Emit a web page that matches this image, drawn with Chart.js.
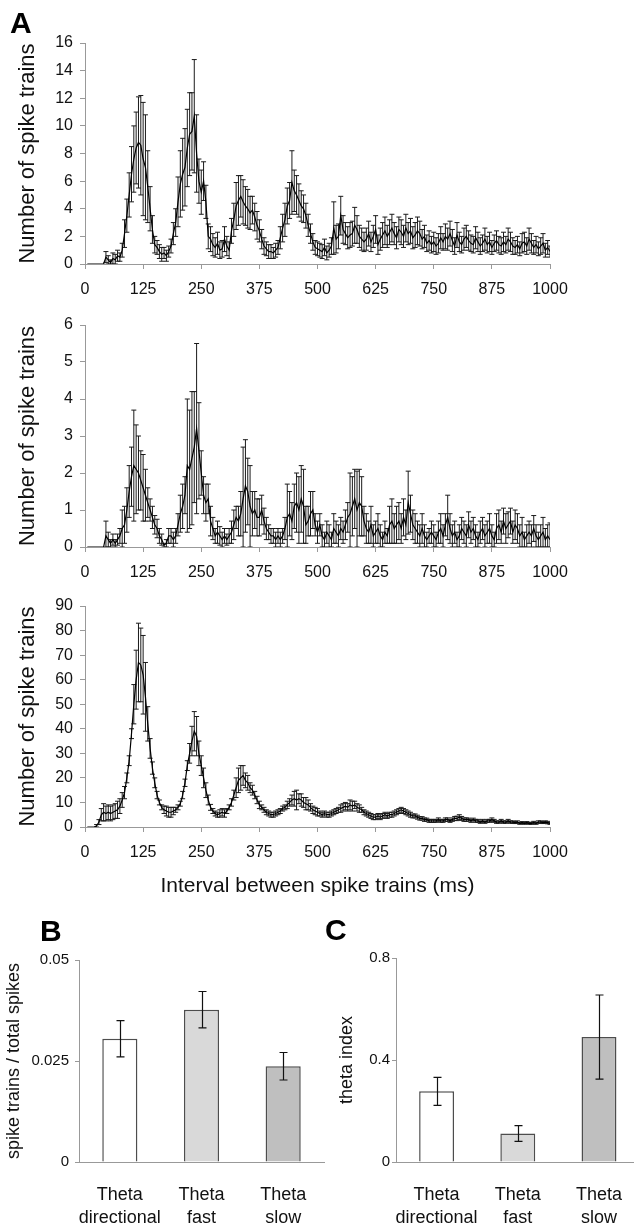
<!DOCTYPE html>
<html>
<head>
<meta charset="utf-8">
<script src="https://cdn.jsdelivr.net/npm/chart.js@4.4.0/dist/chart.umd.min.js"></script>
<style>
  html, body { margin: 0; padding: 0; background: #fff; overflow: hidden; }
  body { width: 634px; height: 1225px; position: relative; }
  canvas { position: absolute; }
  .panel { position: absolute; font: bold 30px Arial, 'Liberation Sans', sans-serif; line-height: 30px; color: #000; }
</style>
</head>
<body>
<canvas id="chartA1" width="634" height="300" style="left:0;top:0"></canvas>
<canvas id="chartA2" width="634" height="284" style="left:0;top:300px"></canvas>
<canvas id="chartA3" width="634" height="326" style="left:0;top:584px"></canvas>
<canvas id="chartB" width="340" height="315" style="left:0;top:910px"></canvas>
<canvas id="chartC" width="344" height="315" style="left:300px;top:910px"></canvas>
<div class="panel" style="left:10px;top:8px">A</div>
<div class="panel" style="left:40px;top:916px">B</div>
<div class="panel" style="left:325px;top:915px">C</div>
<script>
const FONT = "Arial, 'Liberation Sans', sans-serif";

// 5 ms bins, 5..1000 ms
const BIN_MS = 5;
const intervalsMs = Array.from({length: 200}, (_, i) => (i + 1) * BIN_MS);
const xTickValues = [0, 125, 250, 375, 500, 625, 750, 875, 1000];

// top panel
const a1Mean = [
  0, 0, 0, 0, 0, 0, 0, 0, 0.5, 0.3,
  0.1, 0.4, 0.3, 0.6, 0.5, 1.0, 2.2, 3.5, 5.0, 6.5,
  7.6, 8.4, 8.8, 8.6, 7.6, 7.0, 5.6, 4.0, 2.5, 1.4,
  1.2, 0.9, 0.7, 0.8, 0.6, 0.9, 1.3, 2.2, 3.0, 4.5,
  5.8, 6.5, 7.0, 8.4, 9.4, 9.6, 10.7, 8.0, 6.0, 5.2,
  6.0, 4.5, 2.0, 1.8, 1.4, 1.2, 1.5, 1.0, 1.1, 1.8,
  1.3, 1.0, 2.4, 3.2, 4.2, 4.6, 4.9, 4.5, 4.2, 4.0,
  3.7, 3.9, 3.4, 2.8, 2.4, 1.8, 1.3, 1.1, 0.9, 0.9,
  0.8, 1.0, 1.2, 1.9, 2.6, 3.2, 4.2, 4.6, 5.9, 5.3,
  5.0, 4.6, 4.2, 4.0, 3.5, 2.8, 2.2, 1.6, 1.2, 1.1,
  1.0, 0.9, 1.2, 0.8, 1.0, 1.3, 2.6, 1.8, 2.0, 3.5,
  2.5, 2.2, 1.9, 2.1, 2.2, 2.8, 2.5, 2.0, 1.8, 1.6,
  1.8, 2.2, 1.6, 2.0, 2.5, 1.4, 1.8, 2.1, 2.4, 2.0,
  2.3, 2.6, 2.2, 1.9, 2.5, 2.3, 2.0, 2.6, 2.2, 2.4,
  1.9, 2.1, 2.4, 2.2, 1.8, 2.0, 1.5, 1.7, 1.4, 1.6,
  1.3, 1.5, 1.9, 1.6, 2.0, 1.8, 2.2, 1.7, 1.3, 2.1,
  1.6, 1.4, 1.8, 2.0, 1.7, 1.5, 1.4, 1.9, 1.6, 1.3,
  1.5, 1.8, 1.4, 1.6, 1.2, 1.5, 1.7, 1.4, 1.3, 1.6,
  1.4, 1.8, 1.6, 1.3, 1.2, 1.4, 1.1, 1.5, 1.6, 1.3,
  1.8, 1.5, 1.2, 1.4, 1.1, 1.3, 1.5, 1.0, 1.2, 0.9
];
const a1Sem = [
  0, 0, 0, 0, 0, 0, 0, 0, 0.4, 0.3,
  0.2, 0.4, 0.4, 0.4, 0.3, 0.5, 1.0, 1.2, 1.6, 2.0,
  2.4, 2.6, 3.3, 3.6, 4.1, 3.8, 2.6, 1.6, 1.0, 0.6,
  0.5, 0.5, 0.5, 0.4, 0.4, 0.4, 0.5, 0.8, 1.0, 1.8,
  2.4, 2.6, 2.8, 2.8, 3.0, 2.8, 4.1, 2.8, 1.6, 1.6,
  1.4, 1.2, 0.9, 0.9, 0.8, 0.7, 0.8, 0.6, 0.6, 0.9,
  0.7, 0.6, 0.9, 1.2, 1.7, 1.8, 1.5, 1.6, 1.4, 1.4,
  1.2, 1.0, 1.0, 1.0, 0.8, 0.7, 0.6, 0.5, 0.5, 0.5,
  0.4, 0.5, 0.5, 0.8, 1.0, 1.2, 1.3, 1.3, 2.3, 1.5,
  1.4, 1.2, 1.1, 1.0, 0.9, 0.8, 0.7, 0.6, 0.5, 0.5,
  0.5, 0.5, 0.6, 0.5, 0.5, 0.6, 1.9, 1.0, 0.9, 1.4,
  1.0, 0.8, 0.8, 0.9, 0.9, 1.3, 1.0, 0.8, 0.8, 0.7,
  0.8, 0.9, 0.7, 0.8, 1.0, 0.7, 0.8, 0.9, 1.0, 0.8,
  0.9, 1.0, 0.8, 0.8, 0.9, 0.9, 0.8, 1.0, 0.8, 0.9,
  0.8, 0.9, 1.0, 0.9, 0.7, 0.8, 0.6, 0.7, 0.6, 0.7,
  0.6, 0.7, 0.8, 0.6, 0.9, 0.8, 0.9, 0.8, 0.6, 0.9,
  0.7, 0.6, 0.8, 0.8, 0.7, 0.6, 0.6, 0.8, 0.7, 0.6,
  0.6, 0.8, 0.6, 0.7, 0.5, 0.6, 0.7, 0.6, 0.6, 0.7,
  0.6, 0.8, 0.7, 0.6, 0.5, 0.6, 0.5, 0.7, 0.7, 0.6,
  0.8, 0.7, 0.5, 0.6, 0.5, 0.6, 0.7, 0.5, 0.5, 0.4
];
const a1YTicks = [0, 2, 4, 6, 8, 10, 12, 14, 16];

// middle panel
const a2Mean = [
  0, 0, 0, 0, 0, 0, 0, 0, 0.3, 0.2,
  0.1, 0.2, 0.1, 0.2, 0.3, 0.5, 0.6, 1.0, 1.5, 1.9,
  2.2, 2.1, 2.0, 1.8, 1.6, 1.4, 1.2, 1.0, 0.8, 0.6,
  0.5, 0.3, 0.2, 0.05, 0.1, 0.3, 0.3, 0.2, 0.3, 0.6,
  0.9, 1.1, 1.4, 2.2, 2.1, 2.4, 2.7, 3.2, 2.6, 2.0,
  1.4, 1.2, 1.3, 0.7, 0.5, 0.3, 0.4, 0.3, 0.2, 0.3,
  0.2, 0.3, 0.4, 0.6, 0.8, 0.7, 0.9, 1.3, 1.65, 1.5,
  1.1, 0.9, 1.0, 0.8, 0.8, 1.0, 0.7, 0.5, 0.4, 0.3,
  0.3, 0.2, 0.3, 0.2, 0.3, 0.5, 0.8, 0.9, 0.7, 1.1,
  1.2, 1.0, 1.3, 1.1, 0.6, 0.7, 0.9, 1.0, 0.6, 0.4,
  0.6, 0.3, 0.2, 0.4, 0.3, 0.2, 0.5, 0.4, 0.3, 0.5,
  0.4, 0.6, 0.8, 0.9, 1.1, 1.3, 1.0, 1.2, 1.1, 0.7,
  0.5, 0.4, 0.6, 0.3, 0.4, 0.5, 0.3, 0.2, 0.4, 0.3,
  0.6, 0.7, 0.5, 0.6, 0.7, 0.5, 0.8, 0.6, 1.2, 0.9,
  0.6, 0.5, 0.4, 0.3, 0.5, 0.3, 0.2, 0.3, 0.4, 0.3,
  0.2, 0.4, 0.5, 0.3, 0.6, 0.8, 0.5, 0.3, 0.4, 0.2,
  0.3, 0.5, 0.4, 0.3, 0.6, 0.4, 0.5, 0.3, 0.2, 0.4,
  0.5, 0.3, 0.4, 0.5, 0.3, 0.2, 0.5, 0.6, 0.4, 0.7,
  0.5, 0.6, 0.7, 0.4, 0.6, 0.5, 0.3, 0.4, 0.2, 0.3,
  0.4, 0.3, 0.5, 0.3, 0.2, 0.3, 0.4, 0.2, 0.3, 0.2
];
const a2Sem = [
  0, 0, 0, 0, 0, 0, 0, 0, 0.4, 0.2,
  0.1, 0.15, 0.1, 0.15, 0.2, 0.5, 0.5, 0.6, 0.7, 0.8,
  1.5, 1.2, 1.0, 0.8, 0.9, 0.7, 0.4, 0.3, 0.3, 0.25,
  0.25, 0.2, 0.15, 0.05, 0.1, 0.2, 0.2, 0.2, 0.2, 0.3,
  0.5, 0.6, 0.5, 1.8, 1.6, 1.8, 1.5, 2.3, 1.3, 0.6,
  0.5, 0.5, 0.4, 0.4, 0.3, 0.2, 0.3, 0.25, 0.2, 0.2,
  0.15, 0.2, 0.3, 0.4, 0.3, 0.4, 0.6, 1.4, 1.25, 0.9,
  1.1, 0.6, 0.5, 0.5, 0.5, 0.4, 0.35, 0.3, 0.2, 0.2,
  0.2, 0.2, 0.2, 0.2, 0.2, 0.3, 0.9, 0.6, 0.5, 0.6,
  0.8, 0.9, 0.9, 1.0, 0.5, 0.4, 0.6, 0.5, 0.3, 0.3,
  0.3, 0.3, 0.2, 0.3, 0.3, 0.2, 0.4, 0.3, 0.3, 0.3,
  0.3, 0.4, 0.4, 1.1, 0.8, 0.8, 1.05, 0.9, 0.8, 0.4,
  0.4, 0.3, 0.5, 0.3, 0.3, 0.4, 0.3, 0.2, 0.3, 0.2,
  0.5, 0.6, 0.4, 0.5, 0.5, 0.4, 0.5, 0.4, 0.85, 0.5,
  0.4, 0.4, 0.3, 0.3, 0.4, 0.3, 0.2, 0.2, 0.3, 0.3,
  0.2, 0.3, 0.4, 0.3, 0.3, 0.6, 0.4, 0.3, 0.3, 0.2,
  0.3, 0.3, 0.3, 0.3, 0.35, 0.3, 0.3, 0.3, 0.2, 0.3,
  0.3, 0.3, 0.3, 0.4, 0.3, 0.2, 0.4, 0.4, 0.3, 0.35,
  0.4, 0.35, 0.35, 0.3, 0.4, 0.4, 0.3, 0.4, 0.2, 0.3,
  0.3, 0.3, 0.35, 0.3, 0.2, 0.3, 0.4, 0.3, 0.3, 0.45
];
const a2YTicks = [0, 1, 2, 3, 4, 5, 6];

// bottom panel
const a3Mean = [
  0, 0, 0, 0, 0.5, 2, 5, 6, 5.5, 6,
  5.5, 6, 6.5, 7, 8.5, 11, 14, 20, 27, 38,
  50, 60, 67, 66, 62, 53, 42, 32, 24, 18,
  13, 10, 8, 7, 6.5, 6, 6, 6.5, 7, 8,
  9.5, 13, 18, 25, 30, 35, 39, 37, 30, 25,
  20, 15, 11, 8, 6.5, 5.5, 5, 5.5, 6, 5.5,
  6.5, 8, 10, 13, 16, 19, 20, 21, 19, 18,
  16, 15, 13, 11, 9, 8, 7, 6, 5.5, 5,
  5, 5.5, 6, 6.5, 7.5, 8, 9, 10, 11, 11.5,
  11, 11.5, 11, 10, 9.5, 9, 8, 7, 6.5, 6,
  5.5, 5, 5.5, 5, 5, 5.5, 6, 6.5, 7, 7.5,
  8, 8.5, 8, 9, 8.5, 9, 8, 7.5, 7, 6,
  5.5, 5, 4.5, 4, 4, 4.5, 4, 4.5, 5, 4.5,
  5, 5, 5.5, 6, 6.5, 7, 6.5, 6, 5.5, 5,
  4.5, 4.5, 4, 3.5, 3.5, 3, 3, 2.5, 2.5, 2.5,
  2.5, 3, 2.5, 2.5, 3, 3, 2.5, 3, 3.5, 3.5,
  4, 3.5, 3, 3, 3, 2.5, 3, 2.5, 2.5, 2,
  2.5, 2, 2.5, 2.5, 3, 2.5, 2, 2, 2.5, 2,
  2, 2.5, 2, 2, 1.8, 2, 1.5, 1.8, 1.5, 1.8,
  1.5, 1.5, 1.8, 1.5, 2, 2, 1.8, 2, 1.8, 1.5
];
const a3Sem = [
  0, 0, 0, 0, 0.5, 1, 2.5, 3.5, 3, 3,
  3, 3, 3, 3.5, 3, 3, 2.5, 2, 2, 2,
  8, 12, 16, 15, 16, 14, 7, 4, 2.5, 2,
  1.5, 1, 1, 1.5, 2, 2, 2, 1.5, 1, 1,
  1, 1.5, 1.5, 2, 4, 6, 8, 8, 5, 4,
  4, 3, 2, 1.2, 1, 1, 1, 1.5, 1.5, 1.5,
  1, 1, 1.5, 2, 4, 5, 5, 4, 3, 3,
  2, 2, 1.5, 1.5, 1.5, 1, 1, 1, 1, 1,
  1, 1, 1, 1, 1, 1, 1.5, 1.5, 2, 3,
  4, 2, 2.5, 2, 2.5, 2, 1.5, 1.5, 1.5, 1.5,
  1, 1, 1, 1, 1, 1, 1, 1, 1, 1.5,
  1.5, 1.5, 1.5, 2, 2, 1.5, 1.5, 1.5, 1, 1,
  1, 1, 1, 1, 1, 1, 1, 1, 1, 1,
  1, 1, 1, 1, 1, 1, 1, 1, 1, 1,
  0.8, 0.8, 0.8, 0.7, 0.7, 0.7, 0.6, 0.6, 0.6, 0.6,
  0.6, 0.7, 0.6, 0.6, 0.7, 0.7, 0.6, 0.7, 0.8, 0.9,
  1.0, 0.8, 0.7, 0.7, 0.6, 0.6, 0.6, 0.6, 0.6, 0.5,
  0.6, 0.5, 0.6, 0.6, 0.7, 0.6, 0.5, 0.5, 0.6, 0.5,
  0.5, 0.6, 0.5, 0.5, 0.4, 0.5, 0.4, 0.4, 0.4, 0.4,
  0.4, 0.4, 0.5, 0.4, 0.5, 0.5, 0.4, 0.5, 0.5, 0.4
];
const a3YTicks = [0, 10, 20, 30, 40, 50, 60, 70, 80, 90];

// panels B and C
const cellTypes = [['Theta', 'directional'], ['Theta', 'fast'], ['Theta', 'slow']];
const barColors = ['#ffffff', '#d9d9d9', '#bfbfbf'];
const ratioMean = [0.0305, 0.0377, 0.0237];
const ratioSem = [0.0045, 0.0045, 0.0034];
const ratioYTicks = [0, 0.025, 0.05];
const ratioYLabels = ['0', '0.025', '0.05'];
const thetaMean = [0.277, 0.112, 0.49];
const thetaSem = [0.055, 0.031, 0.165];
const thetaYTicks = [0, 0.4, 0.8];
const thetaYLabels = ['0', '0.4', '0.8'];

function drawErrorBars(chart, opts) {
  const {ctx, chartArea, scales} = chart;
  const y = scales.y;
  ctx.save();
  ctx.beginPath();
  ctx.rect(chartArea.left, chartArea.top - 2, chartArea.right - chartArea.left, chartArea.bottom - chartArea.top + 2);
  ctx.clip();
  ctx.strokeStyle = opts.color;
  ctx.lineWidth = opts.width;
  chart.data.datasets.forEach((ds, di) => {
    if (!ds.errors) return;
    const meta = chart.getDatasetMeta(di);
    ctx.beginPath();
    meta.data.forEach((el, i) => {
      const e = ds.errors[i];
      if (!e) return;
      const raw = ds.data[i];
      const v = typeof raw === 'object' ? raw.y : raw;
      const x = opts.crisp ? Math.round(el.x) + 0.5 : el.x;
      const top = y.getPixelForValue(v + e);
      const bottom = y.getPixelForValue(Math.max(v - e, 0));
      ctx.moveTo(x, top);
      ctx.lineTo(x, bottom);
      ctx.moveTo(x - opts.cap, top);
      ctx.lineTo(x + opts.cap, top);
      ctx.moveTo(x - opts.cap, bottom);
      ctx.lineTo(x + opts.cap, bottom);
    });
    ctx.stroke();
  });
  ctx.restore();
}

const errorBars = {
  id: 'errorBars',
  beforeDatasetsDraw(chart, args, opts) {
    if (opts.layer === 'before') drawErrorBars(chart, opts);
  },
  afterDatasetsDraw(chart, args, opts) {
    if (opts.layer !== 'before') drawErrorBars(chart, opts);
  }
};

function intervalChart(id, means, sems, yTicks, padTop, xHeight, xTitle) {
  const points = intervalsMs.map((ms, i) => ({x: ms, y: means[i]}));
  return new Chart(document.getElementById(id), {
    type: 'line',
    data: {
      datasets: [{
        data: points,
        errors: sems,
        borderColor: '#000',
        borderWidth: 1.2,
        pointRadius: 0,
        tension: 0,
        fill: false
      }]
    },
    options: {
      responsive: false,
      animation: false,
      devicePixelRatio: 1,
      layout: {padding: {top: padTop, right: 84, left: 0, bottom: 0}},
      scales: {
        x: {
          type: 'linear',
          min: 0,
          max: 1000,
          afterBuildTicks: s => { s.ticks = xTickValues.map(v => ({value: v})); },
          afterFit: s => { s.height = xHeight; },
          ticks: {
            callback: v => String(v),
            font: {family: FONT, size: 16},
            color: '#111',
            padding: 11,
            maxRotation: 0,
            autoSkip: false
          },
          grid: {drawOnChartArea: false, drawTicks: true, tickLength: 5, color: '#999'},
          border: {color: '#999'},
          title: {
            display: !!xTitle,
            text: xTitle || '',
            font: {family: FONT, size: 21},
            color: '#111',
            padding: {top: 0, bottom: 11}
          }
        },
        y: {
          min: 0,
          max: yTicks[yTicks.length - 1],
          afterBuildTicks: s => { s.ticks = yTicks.map(v => ({value: v})); },
          afterFit: s => { s.width = 85; },
          ticks: {
            callback: v => String(v),
            font: {family: FONT, size: 16},
            color: '#111',
            padding: 7
          },
          grid: {drawOnChartArea: false, drawTicks: true, tickLength: 5, color: '#999'},
          border: {color: '#999'},
          title: {
            display: true,
            text: 'Number of spike trains',
            font: {family: FONT, size: 22},
            color: '#111',
            padding: {top: 15, bottom: 0}
          }
        }
      },
      plugins: {
        legend: {display: false},
        tooltip: {enabled: false},
        errorBars: {cap: 2.5, color: '#1a1a1a', width: 1, layer: 'before', crisp: false}
      }
    },
    plugins: [errorBars]
  });
}

function groupChart(id, means, sems, yTicks, yLabels, yTitle, pad, yWidth, titlePad, labelPad) {
  return new Chart(document.getElementById(id), {
    type: 'bar',
    data: {
      labels: cellTypes,
      datasets: [{
        data: means,
        errors: sems,
        backgroundColor: barColors,
        borderColor: '#4d4d4d',
        borderWidth: 1.5,
        barPercentage: 0.43,
        categoryPercentage: 1
      }]
    },
    options: {
      responsive: false,
      animation: false,
      devicePixelRatio: 1,
      layout: {padding: pad},
      scales: {
        x: {
          afterFit: s => { s.height = 63; },
          ticks: {
            font: {family: FONT, size: 18, lineHeight: 1.25},
            color: '#111',
            padding: 22,
            maxRotation: 0,
            autoSkip: false
          },
          grid: {display: false, drawTicks: false},
          border: {color: '#999'}
        },
        y: {
          min: 0,
          max: yTicks[yTicks.length - 1],
          afterBuildTicks: s => { s.ticks = yTicks.map(v => ({value: v})); },
          afterFit: s => { s.width = yWidth; },
          ticks: {
            callback: (v, i) => yLabels[i],
            font: {family: FONT, size: 15},
            color: '#111',
            padding: labelPad
          },
          grid: {drawOnChartArea: false, drawTicks: true, tickLength: 4, color: '#999'},
          border: {color: '#999'},
          title: {
            display: true,
            text: yTitle,
            font: {family: FONT, size: 18},
            color: '#111',
            padding: {top: titlePad, bottom: 0}
          }
        }
      },
      plugins: {
        legend: {display: false},
        tooltip: {enabled: false},
        errorBars: {cap: 4, color: '#111', width: 1.2, layer: 'after', crisp: true}
      }
    },
    plugins: [errorBars]
  });
}

intervalChart('chartA1', a1Mean, a1Sem, a1YTicks, 43, 36, null);
intervalChart('chartA2', a2Mean, a2Sem, a2YTicks, 25, 37, null);
intervalChart('chartA3', a3Mean, a3Sem, a3YTicks, 22, 83, 'Interval between spike trains (ms)');
groupChart('chartB', ratioMean, ratioSem, ratioYTicks, ratioYLabels, 'spike trains / total spikes',
  {top: 50, right: 16, left: 0, bottom: 0}, 79, 3, 6);
groupChart('chartC', thetaMean, thetaSem, thetaYTicks, thetaYLabels, 'theta index',
  {top: 48, right: 0, left: 0, bottom: 0}, 96, 36, 2);
</script>
</body>
</html>
